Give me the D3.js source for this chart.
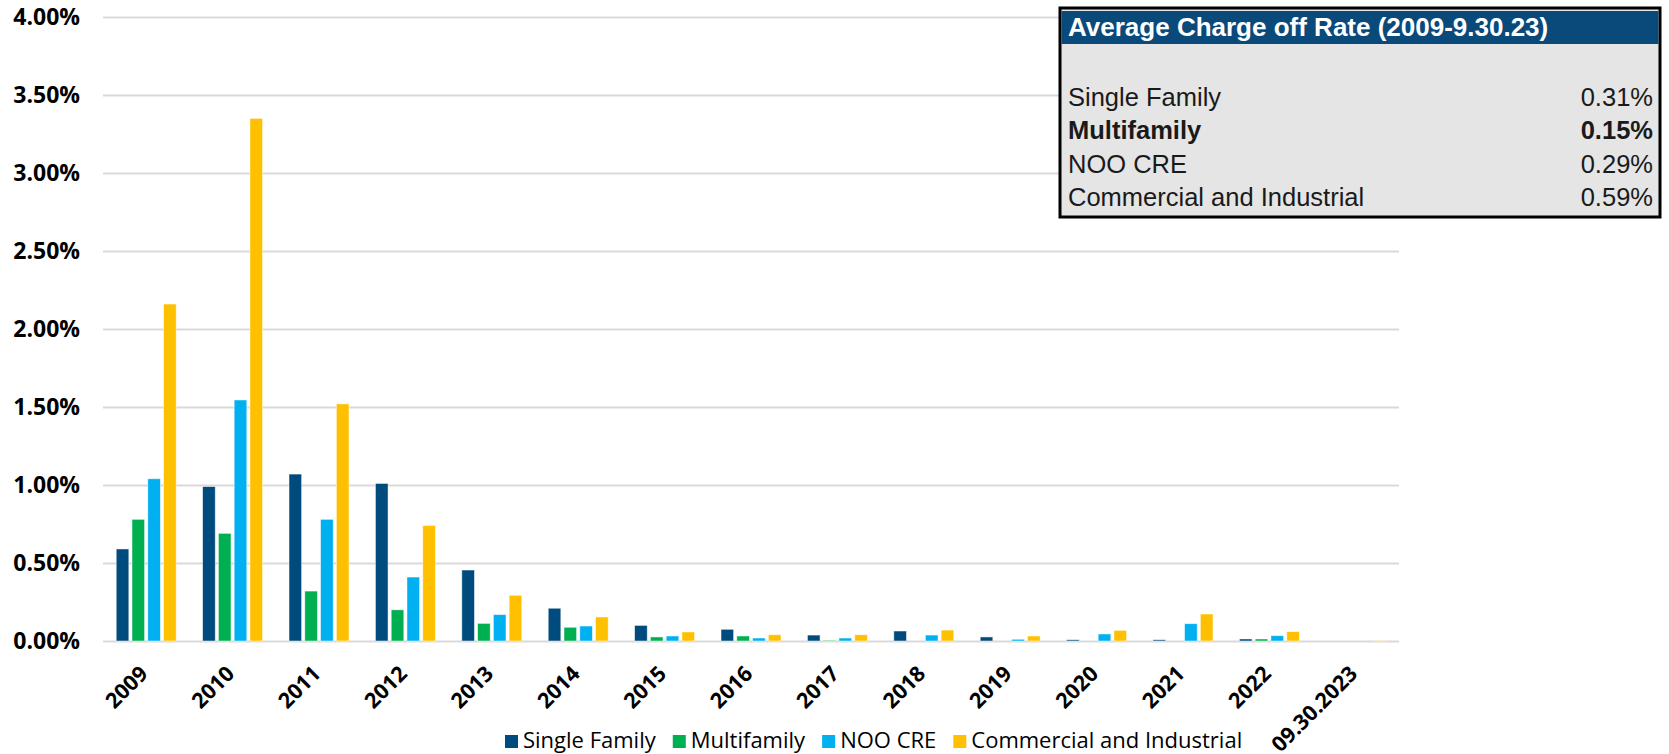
<!DOCTYPE html>
<html lang="en">
<head>
    <meta charset="UTF-8">
    <title>charge off rates</title>
    <script src="https://cdn.jsdelivr.net/npm/d3@7"></script>
    <style>
        body { margin: 0; background: #fff; }
    </style>
</head>
<body>
    <svg></svg>
    <script>
        // categories and series
        const years = ['2009', '2010', '2011', '2012', '2013', '2014', '2015', '2016',
                       '2017', '2018', '2019', '2020', '2021', '2022', '09.30.2023'];
        const seriesNames = ['Single Family', 'Multifamily', 'NOO CRE', 'Commercial and Industrial'];
        const seriesColors = ['#004b7d', '#00b050', '#00b0f0', '#ffc000'];

        // charge off rates, percent
        const singleFamily = [0.59, 0.99, 1.07, 1.01, 0.455, 0.21, 0.10, 0.075, 0.038, 0.064, 0.026, 0.008, 0.008, 0.013, 0];
        const multifamily  = [0.78, 0.69, 0.32, 0.20, 0.113, 0.088, 0.026, 0.032, 0.005, 0, 0, 0, 0, 0.013, 0];
        const nooCre       = [1.04, 1.545, 0.78, 0.41, 0.169, 0.096, 0.032, 0.019, 0.019, 0.038, 0.011, 0.045, 0.111, 0.034, 0];
        const commInd      = [2.16, 3.35, 1.52, 0.74, 0.293, 0.154, 0.058, 0.04, 0.04, 0.07, 0.032, 0.068, 0.173, 0.06, 0.002];

        const yTicks = [0, 0.5, 1, 1.5, 2, 2.5, 3, 3.5, 4];

        // summary box
        const tableTitle = 'Average Charge off Rate (2009-9.30.23)';
        const tableLabels = ['Single Family', 'Multifamily', 'NOO CRE', 'Commercial and Industrial'];
        const tableValues = ['0.31%', '0.15%', '0.29%', '0.59%'];
        const tableBold = [false, true, false, false];

        const allSeries = [singleFamily, multifamily, nooCre, commInd];

        const svgWidth = 1669;
        const svgHeight = 754;
        const plotLeft = 103, plotRight = 1399, plotTop = 17, plotBottom = 641;

        const svg = d3.select('svg')
            .attr('width', svgWidth)
            .attr('height', svgHeight);

        const x = d3.scaleBand()
            .domain(years)
            .range([plotLeft, plotRight])
            .paddingInner(0.306)
            .paddingOuter(0.153);

        const xs = d3.scaleBand()
            .domain(seriesNames)
            .range([0, x.bandwidth()])
            .paddingInner(0.2);

        const y = d3.scaleLinear()
            .domain([0, 4])
            .range([plotBottom, plotTop]);

        // gridlines
        svg.append('g')
            .attr('transform', `translate(${plotLeft},0)`)
            .call(d3.axisLeft(y).tickValues(yTicks).tickSize(-(plotRight - plotLeft)).tickFormat(''))
            .call(g => g.select('.domain').remove())
            .call(g => g.selectAll('line').attr('stroke', '#d9d9d9').attr('stroke-width', 2));

        // y labels
        svg.append('g')
            .attr('transform', `translate(${plotLeft},0)`)
            .call(d3.axisLeft(y).tickValues(yTicks).tickSize(0).tickPadding(23)
                .tickFormat(d => d.toFixed(2) + '%'))
            .call(g => g.select('.domain').remove())
            .selectAll('text')
            .attr('fill', '#000')
            .style('font-family', '"Open Sans", sans-serif')
            .style('font-weight', 700)
            .style('font-size', '23px');

        // bars
        const groups = svg.append('g')
            .selectAll('g')
            .data(years)
            .join('g')
            .attr('transform', d => `translate(${x(d)},0)`);

        groups.selectAll('rect')
            .data((d, i) => seriesNames.map((s, j) => ({ s: s, v: allSeries[j][i], c: seriesColors[j] })))
            .join('rect')
            .attr('x', d => xs(d.s))
            .attr('width', xs.bandwidth())
            .attr('y', d => y(d.v))
            .attr('height', d => y(0) - y(d.v))
            .attr('fill', d => d.c)
            .attr('stroke', d => d.v > 0 ? 'rgba(255,255,255,0.6)' : 'none')
            .attr('stroke-width', 0.8);

        // x labels
        svg.append('g')
            .attr('transform', `translate(0,${plotBottom})`)
            .call(d3.axisBottom(x).tickSize(0))
            .call(g => g.select('.domain').remove())
            .selectAll('text')
            .attr('fill', '#000')
            .attr('x', 0).attr('y', 0).attr('dy', 0)
            .attr('text-anchor', 'end')
            .attr('transform', 'translate(3,34) rotate(-45)')
            .style('font-family', '"Open Sans", sans-serif')
            .style('font-weight', 700)
            .style('font-size', '21.5px');

        // legend
        const legend = svg.append('g');
        let lx = 505;
        seriesNames.forEach((name, i) => {
            legend.append('rect')
                .attr('x', lx).attr('y', 735)
                .attr('width', 13).attr('height', 13)
                .attr('fill', seriesColors[i]);
            const t = legend.append('text')
                .attr('x', lx + 18).attr('y', 748)
                .style('font-family', '"Open Sans", sans-serif')
                .style('font-size', '22px')
                .attr('fill', '#000')
                .text(name);
            lx += 18 + t.node().getComputedTextLength() + 17;
        });

        // summary box
        const box = svg.append('g');
        const bx = 1060, by = 8, bw = 600, bh = 209;
        box.append('rect')
            .attr('x', bx).attr('y', by).attr('width', bw).attr('height', bh)
            .attr('fill', '#e5e5e5')
            .attr('stroke', '#000').attr('stroke-width', 3);
        box.append('rect')
            .attr('x', bx + 1.5).attr('y', by + 3).attr('width', bw - 3).attr('height', 33)
            .attr('fill', '#0a4a7a');
        box.append('text')
            .attr('x', bx + 8).attr('y', by + 28)
            .attr('fill', '#fff')
            .style('font-family', '"Liberation Sans", Arial, sans-serif')
            .style('font-weight', 700)
            .style('font-size', '26px')
            .text(tableTitle);

        const rowY = d3.scaleLinear().domain([0, 3]).range([by + 98, by + 198]);
        tableLabels.forEach((lab, i) => {
            box.append('text')
                .attr('x', bx + 8).attr('y', rowY(i))
                .attr('fill', '#1a1a1a')
                .style('font-family', '"Liberation Sans", Arial, sans-serif')
                .style('font-weight', tableBold[i] ? 700 : 400)
                .style('font-size', '25.5px')
                .text(lab);
            box.append('text')
                .attr('x', bx + bw - 7).attr('y', rowY(i))
                .attr('text-anchor', 'end')
                .attr('fill', '#1a1a1a')
                .style('font-family', '"Liberation Sans", Arial, sans-serif')
                .style('font-weight', tableBold[i] ? 700 : 400)
                .style('font-size', '25.5px')
                .text(tableValues[i]);
        });
    </script>
</body>
</html>
